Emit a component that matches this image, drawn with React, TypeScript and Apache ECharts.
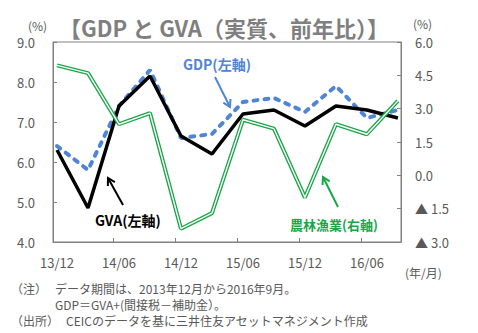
import React, { useEffect, useRef } from "react";
import * as echarts from "echarts";

const categories = ["13/12", "14/03", "14/06", "14/09", "14/12", "15/03", "15/06", "15/09", "15/12", "16/03", "16/06", "16/09"];
const tickLabels = ["13/12", "14/06", "14/12", "15/06", "15/12", "16/06"];
const gdp = [6.4, 5.8, 7.4, 8.3, 6.6, 6.7, 7.5, 7.6, 7.25, 7.9, 7.1, 7.3];
const gva = [6.3, 4.85, 7.4, 8.15, 6.65, 6.2, 7.2, 7.3, 6.9, 7.4, 7.3, 7.1];
const agri = [4.95, 4.6, 2.3, 2.8, -2.4, -1.7, 2.5, 2.1, -1.0, 2.3, 1.85, 3.35];

const FONT = "'Noto Sans CJK JP', 'Noto Sans', sans-serif";
const GRAY = "#595959";
const BLUE = "#4f84d6";
const GREEN = "#1aa648";

function arrow(x1: number, y1: number, x2: number, y2: number, color: string) {
  const dx = x2 - x1, dy = y2 - y1;
  const L = Math.hypot(dx, dy);
  const bx = -dx / L, by = -dy / L;
  const a = Math.PI / 6, s = 8;
  const w1 = [x2 + s * (bx * Math.cos(a) - by * Math.sin(a)), y2 + s * (bx * Math.sin(a) + by * Math.cos(a))];
  const w2 = [x2 + s * (bx * Math.cos(a) + by * Math.sin(a)), y2 + s * (-bx * Math.sin(a) + by * Math.cos(a))];
  return [
    { type: "line", shape: { x1, y1, x2, y2 }, style: { stroke: color, lineWidth: 2 }, z: 100 },
    { type: "polyline", shape: { points: [w1, [x2, y2], w2] }, style: { stroke: color, lineWidth: 2, fill: null }, z: 100 },
  ];
}

export default function App() {
  const ref = useRef<HTMLDivElement>(null);
  useEffect(() => {
    if (!ref.current) return;
    const chart = echarts.init(ref.current, null, { renderer: "svg" });
    const pts = (arr: number[]) => arr.map((v, i) => [i, v]);
    const labelIdx = tickLabels.map((t) => categories.indexOf(t));
    const tickPos = labelIdx.slice(1).map((i) => i - 0.17);
    const txt = (x: number, y: number, text: string, extra: any = {}) => ({
      type: "text",
      x,
      y,
      z: 100,
      style: { text, fontFamily: FONT, fontSize: 13, fill: GRAY, textVerticalAlign: "middle", ...extra },
    });
    chart.setOption({
      animation: false,
      grid: { left: 53, right: 77, top: 42, bottom: 91, show: true, borderColor: "#808080", borderWidth: 1 },
      xAxis: {
        type: "value",
        min: -0.13,
        max: 11.1,
        axisLine: { show: true, onZero: false, lineStyle: { color: "#808080" } },
        axisTick: { show: true, inside: true, length: 4, customValues: tickPos, lineStyle: { color: "#808080" } },
        axisLabel: {
          customValues: labelIdx,
          formatter: (v: number) => categories[Math.round(v)] ?? "",
          color: GRAY,
          fontSize: 13,
          fontFamily: FONT,
          margin: 14,
        },
        splitLine: { show: false },
      },
      yAxis: [
        {
          type: "value",
          min: 4,
          max: 9,
          interval: 1,
          axisLine: { show: true, onZero: false, lineStyle: { color: "#808080" } },
          axisTick: { show: true, inside: true, length: 4, lineStyle: { color: "#808080" } },
          axisLabel: { formatter: (v: number) => v.toFixed(1), color: GRAY, fontSize: 13, fontFamily: FONT, margin: 18 },
          splitLine: { show: false },
        },
        {
          type: "value",
          min: -3,
          max: 6,
          interval: 1.5,
          position: "right",
          axisLine: { show: true, onZero: false, lineStyle: { color: "#808080" } },
          axisTick: { show: true, inside: true, length: 4, lineStyle: { color: "#808080" } },
          axisLabel: {
            formatter: (v: number) => (v < 0 ? "▲ " + Math.abs(v).toFixed(1) : v.toFixed(1)),
            color: GRAY,
            fontSize: 13,
            fontFamily: FONT,
            margin: 14,
          },
          splitLine: { show: false },
        },
      ],
      series: [
        {
          name: "GDP",
          type: "line",
          data: pts(gdp),
          showSymbol: false,
          lineStyle: { color: BLUE, width: 4, type: [4, 7], cap: "round" },
          z: 2,
        },
        {
          name: "GVA",
          type: "line",
          data: pts(gva),
          showSymbol: false,
          lineStyle: { color: "#000000", width: 3.5 },
          z: 3,
        },
        {
          name: "農林漁業",
          type: "line",
          yAxisIndex: 1,
          data: pts(agri),
          showSymbol: false,
          lineStyle: { color: GREEN, width: 4 },
          z: 4,
        },
        {
          name: "農林漁業-inner",
          type: "line",
          yAxisIndex: 1,
          data: pts(agri),
          showSymbol: false,
          lineStyle: { color: "#ffffff", width: 1.4 },
          z: 5,
        },
      ],
      graphic: [
        txt(224, 27, "【GDP と GVA（実質、前年比）】", { fontSize: 22, fontWeight: "bold", fill: "#7f7f7f", textAlign: "center" }),
        txt(28, 25, "(%)", { fontSize: 12 }),
        txt(413, 23, "(%)", { fontSize: 12 }),
        txt(405, 272, "(年/月)", { fontSize: 12 }),
        txt(183, 64, "GDP(左軸)", { fontSize: 14, fontWeight: "bold", fill: BLUE }),
        txt(95, 220, "GVA(左軸)", { fontSize: 14, fontWeight: "bold", fill: "#000000" }),
        txt(290, 224, "農林漁業(右軸)", { fontSize: 13, fontWeight: "bold", fill: GREEN }),
        ...arrow(215, 77, 230, 107, BLUE),
        ...arrow(123, 205, 108, 178, "#000000"),
        ...arrow(338, 207, 323, 177, GREEN),
        txt(11, 288, "（注）", { fontSize: 12 }),
        txt(55, 288, "データ期間は、2013年12月から2016年9月。", { fontSize: 12 }),
        txt(55, 304, "GDP＝GVA+(間接税－補助金）。", { fontSize: 12 }),
        txt(11, 320, "（出所）", { fontSize: 12 }),
        txt(66, 320, "CEICのデータを基に三井住友アセットマネジメント作成", { fontSize: 12 }),
      ],
    });
    return () => chart.dispose();
  }, []);
  return <div ref={ref} style={{ position: "absolute", left: 0, top: 0, width: 478, height: 333, background: "#fff" }} />;
}
